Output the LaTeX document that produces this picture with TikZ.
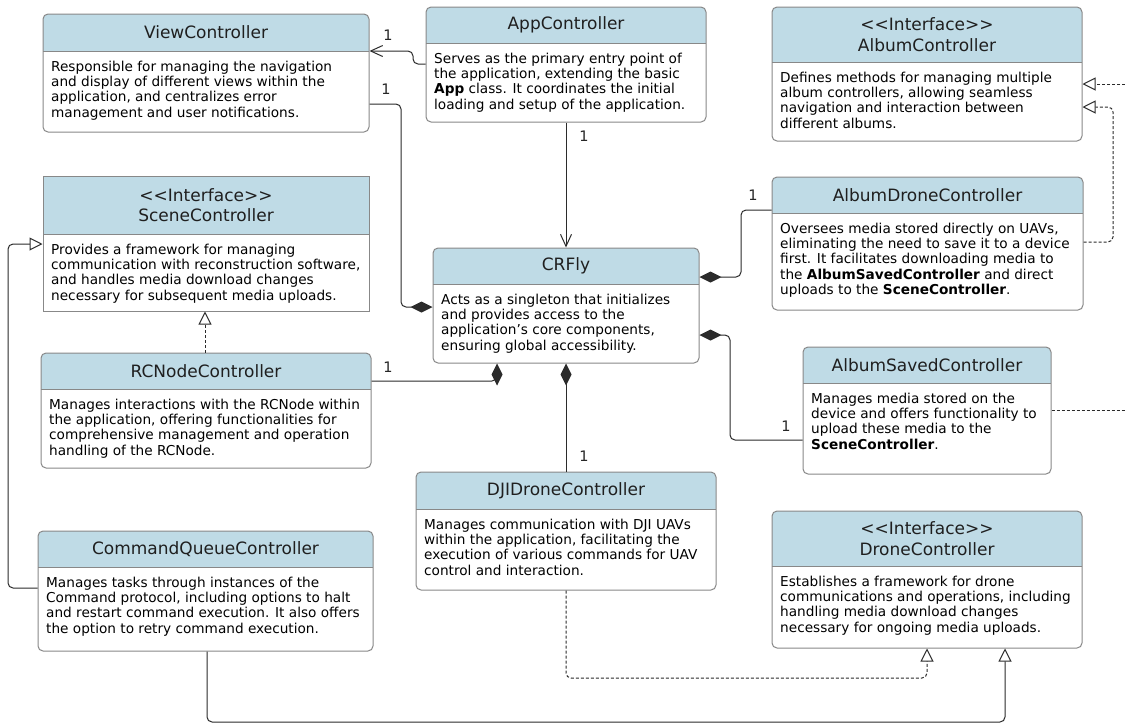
\documentclass[tikz,border=0pt]{standalone}
\usepackage{fontspec}
\setmainfont{DejaVu Sans}
\usetikzlibrary{arrows.meta}
\definecolor{hdr}{HTML}{BFDBE6}
\definecolor{bord}{HTML}{888888}
\definecolor{ln}{HTML}{2B2B2B}
\tikzset{
 classbox/.style={draw=bord, line width=1pt, inner sep=0pt},
 ttl/.style={font=\fontsize{17}{20.5}\selectfont, align=center, text=black!88, inner sep=0pt},
 bdy/.style={font=\fontsize{13.65}{15.4}\selectfont, align=left, anchor=north west, inner sep=0pt},
 conn/.style={draw=ln, line width=1pt, rounded corners=5pt},
 dsh/.style={conn, line width=1pt, dash pattern=on 3pt off 2pt},
 comp/.style={-{Diamond[length=22pt,width=11pt,sharp]}},
 assoc/.style={-{Straight Barb[length=12pt,width=11pt,sharp]}},
 real/.style={-{Triangle[open,length=13pt,width=13pt,fill=white,sharp]}},
 mult/.style={font=\fontsize{14.5}{16}\selectfont, inner sep=0pt, text=black!85}
}
\newcommand\umlclass[9][5pt]{%
 \pgfmathsetmacro\ucx{(#3+#5)/2}%
 \pgfmathsetmacro\ucy{(#4+#6)/2}%
 \pgfmathsetmacro\ucw{#5-#3}%
 \pgfmathsetmacro\uch{#6-#4}%
 \pgfmathsetmacro\uty{(#4+#7)/2}%
 \begin{scope}
  \clip[rounded corners=#1] (#3,#4) rectangle (#5,#6);
  \fill[hdr] (#3,#4) rectangle (#5,#7);
 \end{scope}
 \draw[draw=bord, line width=1pt] (#3,#7) -- (#5,#7);
 \node[classbox, rounded corners=#1, minimum width=\ucw pt, minimum height=\uch pt] (#2) at (\ucx,\ucy) {};
 \node[ttl] at (\ucx,\uty) {#8};
 \node[bdy] at ({#3+8},{#7+9.2}) {\strut #9};
}
\newcommand\ifc{<\kern0pt<Interface>\kern0pt>}
\begin{document}
\begin{tikzpicture}[x=1pt,y=-1pt]
\useasboundingbox (0,0) rectangle (1125,724);
\fill[white] (0,0) rectangle (1125,724);

\umlclass{vc}{43}{14}{369}{132}{51}{ViewController}{Responsible for managing the navigation\\and display of different views within the\\application, and centralizes error\\management and user notifications.}
\umlclass{ac}{426}{7}{706}{122}{43}{AppController}{Serves as the primary entry point of\\the application, extending the basic\\\textbf{App} class. It coordinates the initial\\loading and setup of the application.}
\umlclass{alc}{772}{7}{1082}{141}{62}{\ifc\\AlbumController}{Defines methods for managing multiple\\album controllers, allowing seamless\\navigation and interaction between\\different albums.}
\umlclass{adc}{772}{177}{1083}{310}{213}{AlbumDroneController}{Oversees media stored directly on UAVs,\\eliminating the need to save it to a device\\first. It facilitates downloading media to\\the \textbf{AlbumSavedController} and direct\\uploads to the \textbf{SceneController}.}
\umlclass[0pt]{sc}{43}{176}{369}{311}{234}{\ifc\\SceneController}{Provides a framework for managing\\communication with reconstruction software,\\and handles media download changes\\necessary for subsequent media uploads.}
\umlclass{cr}{433}{248}{699}{363}{284}{CRFly}{Acts as a singleton that initializes\\and provides access to the\\application’s core components,\\ensuring global accessibility.}
\umlclass{rc}{41}{353}{371}{468}{389}{RCNodeController}{Manages interactions with the RCNode within\\the application, offering functionalities for\\comprehensive management and operation\\handling of the RCNode.}
\umlclass{as}{803}{347}{1051}{474}{383}{AlbumSavedController}{Manages media stored on the\\device and offers functionality to\\upload these media to the\\\textbf{SceneController}.}
\umlclass{dji}{416}{472}{716}{590}{509}{DJIDroneController}{Manages communication with DJI UAVs\\within the application, facilitating the\\execution of various commands for UAV\\control and interaction.}
\umlclass{cq}{38}{531}{373}{651}{567}{CommandQueueController}{Manages tasks through instances of the\\Command protocol, including options to halt\\and restart command execution. It also offers\\the option to retry command execution.}
\umlclass{dc}{772}{511}{1082}{648}{566}{\ifc\\DroneController}{Establishes a framework for drone\\communications and operations, including\\handling media download changes\\necessary for ongoing media uploads.}

% associations
\draw[conn, assoc] (ac.west |- 0,64) -- (413,64) -- (413,51) -- (vc.east |- 0,51);
\draw[conn, assoc] (ac.south -| 566,0) -- (cr.north -| 566,0);
% compositions
\draw[conn, comp] (vc.east |- 0,104) -- (401,104) -- (401,307) -- (cr.west |- 0,307);
\draw[conn, comp] (adc.west |- 0,210) -- (741,210) -- (741,277) -- (cr.east |- 0,277);
\draw[conn, comp] (as.west |- 0,440) -- (730,440) -- (730,335) -- (cr.east |- 0,335);
\draw[conn, comp] (rc.east |- 0,381) -- (497,381) -- (cr.south -| 497,0);
\draw[conn, comp] (dji.north -| 566,0) -- (cr.south -| 566,0);
% realizations / generalizations
\draw[dsh, real] (rc.north -| 205,0) -- (sc.south -| 205,0);
\draw[conn, real] (cq.west |- 0,588) -- (8,588) -- (8,244) -- (sc.west |- 0,244);
\draw[dsh, real] (dji.south -| 566,0) -- (566,678) -- (927,678) -- (dc.south -| 927,0);
\draw[conn, real] (cq.south -| 207,0) -- (207,722) -- (1005,722) -- (dc.south -| 1005,0);
\draw[dsh, real] (adc.east |- 0,242) -- (1113,242) -- (1113,107) -- (alc.east |- 0,107);
\coordinate (offA) at (1125,84);
\coordinate (offB) at (1125,410);
\draw[dsh, real] (offA) -- (alc.east |- 0,84);
\draw[dsh] (as.east |- 0,410) -- (offB);

% multiplicities
\node[mult] (m1) at (388,35) {1};
\node[mult] (m2) at (386,89) {1};
\node[mult] (m3) at (584,136) {1};
\node[mult] (m4) at (753,195) {1};
\node[mult] (m5) at (388,367) {1};
\node[mult] (m6) at (584,456) {1};
\node[mult] (m7) at (786,426) {1};
\end{tikzpicture}
\end{document}
